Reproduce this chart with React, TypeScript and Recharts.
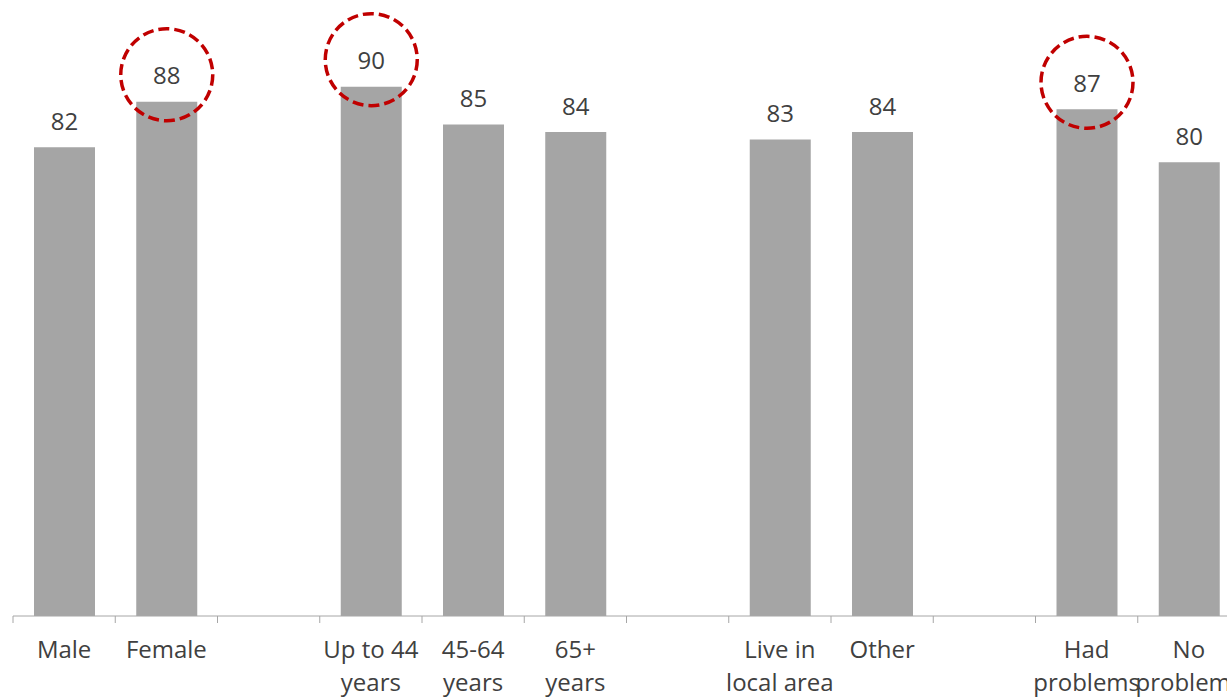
import { BarChart, Bar, XAxis, YAxis, LabelList } from "recharts"

// blank entries are the gaps between the groups
const CATEGORIES = [
  "Male",
  "Female",
  " ",
  "Up to 44\nyears",
  "45-64\nyears",
  "65+\nyears",
  "  ",
  "Live in\nlocal area",
  "Other",
  "   ",
  "Had\nproblems",
  "No\nproblems",
]
const VALUES: (number | null)[] = [82, 88, null, 90, 85, 84, null, 83, 84, null, 87, 80]
const CIRCLED = [false, true, false, true, false, false, false, false, false, false, true, false]

const data = CATEGORIES.map((name, i) => ({
  name,
  value: VALUES[i],
  circle: CIRCLED[i] ? VALUES[i] : null,
}))

const FONT = "'Open Sans', sans-serif"
const TEXT = "#404040"

function CategoryTick(props: any) {
  const { x, y, payload, halfSlot } = props
  const lines = String(payload.value).split("\n")
  return (
    <g>
      <line x1={x - halfSlot} x2={x - halfSlot} y1={y} y2={y + 7} stroke="#a6a6a6" />
      <text x={x} y={y + 32} textAnchor="middle" fontFamily={FONT} fontSize={24} fill={TEXT}>
        {lines.map((l, i) => (
          <tspan key={i} x={x} dy={i === 0 ? 0 : 33} dominantBaseline="central">
            {l}
          </tspan>
        ))}
      </text>
    </g>
  )
}

function ValueLabel(props: any) {
  const { x, y, width, value } = props
  if (value == null) return null
  return (
    <text
      x={x + width / 2}
      y={y - 27}
      textAnchor="middle"
      dominantBaseline="central"
      fontFamily={FONT}
      fontSize={24}
      fill={TEXT}
    >
      {value}
    </text>
  )
}

function Ring(props: any) {
  const { x, y, width, value } = props
  if (value == null) return null
  return (
    <circle
      cx={x + width / 2}
      cy={y - 27}
      r={46}
      fill="none"
      stroke="#c00000"
      strokeWidth={3.5}
      strokeDasharray="11 5"
    />
  )
}

export default function App() {
  const width = 1232
  const left = 5
  const halfSlot = (width - left) / CATEGORIES.length / 2
  return (
    <div
      style={{
        position: "fixed",
        left: 0,
        top: 0,
        width: 1227,
        height: 697,
        overflow: "hidden",
        background: "#fff",
      }}
    >
      <div style={{ position: "absolute", left: 8, top: 8 }}>
        <BarChart width={width} height={689} data={data} margin={{ top: 3, right: 0, left, bottom: 0 }}>
          <XAxis
            dataKey="name"
            interval={0}
            height={81}
            tickLine={false}
            tickSize={0}
            tickMargin={0}
            axisLine={{ stroke: "#a6a6a6" }}
            tick={<CategoryTick halfSlot={halfSlot} />}
          />
          <YAxis hide domain={[20, 100]} />
          <Bar dataKey="value" fill="#a5a5a5" barSize={61} isAnimationActive={false}>
            <LabelList dataKey="value" content={<ValueLabel />} />
            <LabelList dataKey="circle" content={<Ring />} />
          </Bar>
        </BarChart>
      </div>
    </div>
  )
}
